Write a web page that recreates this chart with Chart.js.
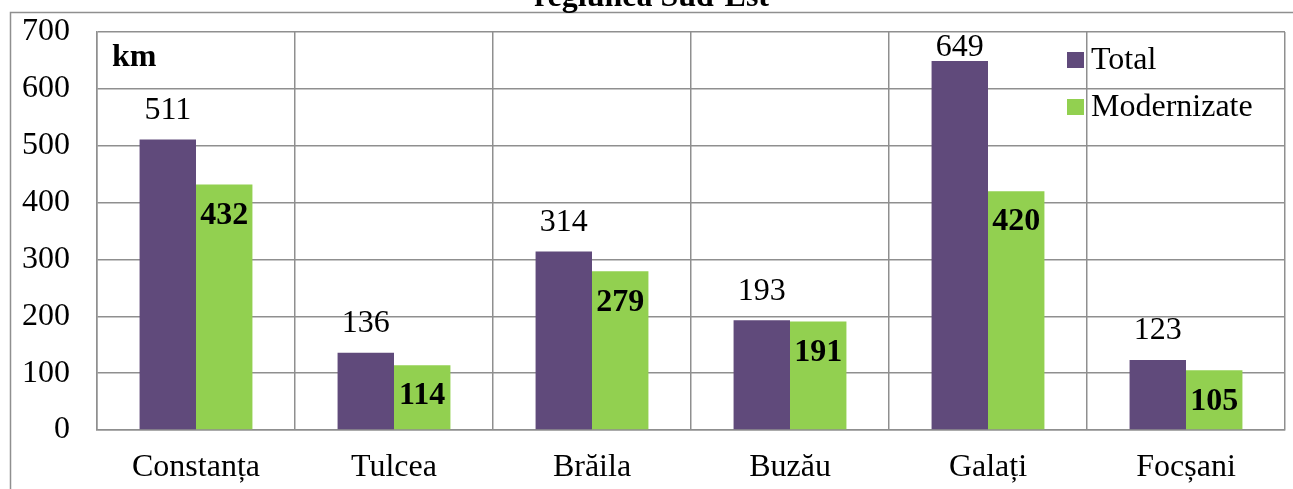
<!DOCTYPE html>
<html>
<head>
<meta charset="utf-8">
<script src="https://cdn.jsdelivr.net/npm/chart.js@4/dist/chart.umd.min.js"></script>
<style>
  html, body { margin: 0; padding: 0; background: #fff; }
  #wrap { width: 1293px; height: 489px; overflow: hidden; position: relative; }
  canvas { display: block; }
</style>
</head>
<body>
<div id="wrap"><canvas id="c" width="1293" height="489"></canvas></div>
<script>
const titleText = 'regiunea Sud-Est';
const unitText = 'km';
const categories = ['Constanța', 'Tulcea', 'Brăila', 'Buzău', 'Galați', 'Focșani'];
const totalValues = [511, 136, 314, 193, 649, 123];
const modernizateValues = [432, 114, 279, 191, 420, 105];
const seriesNames = ['Total', 'Modernizate'];
const yMin = 0, yMax = 700, yStep = 100;

const FONT = '"Liberation Serif", "Times New Roman", serif';
const GRID = '#8f8f8f';
const FS = 32;

const decorPlugin = {
  id: 'decor',
  beforeDraw(chart) {
    const ctx = chart.ctx;
    ctx.save();
    ctx.fillStyle = '#fff';
    ctx.fillRect(0, 0, chart.width, chart.height);
    ctx.restore();
  },
  afterDraw(chart) {
    const ctx = chart.ctx;
    const ca = chart.chartArea;
    ctx.save();
    // outer frame
    ctx.strokeStyle = GRID;
    ctx.lineWidth = 1.5;
    ctx.strokeRect(10.5, 12.5, chart.width + 50, chart.height + 50);
    // title (cut off at top)
    ctx.fillStyle = '#000';
    ctx.font = 'bold ' + FS + 'px ' + FONT;
    ctx.textAlign = 'center';
    ctx.textBaseline = 'alphabetic';
    ctx.fillText(titleText, chart.width / 2 + 5, 6);
    // unit label
    ctx.textAlign = 'left';
    ctx.fillText(unitText, ca.left + 15, 66);
    // legend
    const items = [
      { y: 60, ds: chart.data.datasets[0] },
      { y: 107, ds: chart.data.datasets[1] }
    ];
    ctx.font = FS + 'px ' + FONT;
    ctx.textBaseline = 'middle';
    items.forEach(it => {
      ctx.fillStyle = it.ds.backgroundColor;
      ctx.fillRect(1067, it.y - 8, 17, 16);
      ctx.fillStyle = '#000';
      ctx.fillText(it.ds.label, 1091, it.y + 1);
    });
    // data labels
    ctx.textAlign = 'center';
    chart.data.datasets.forEach((ds, di) => {
      const meta = chart.getDatasetMeta(di);
      meta.data.forEach((el, i) => {
        const v = ds.data[i];
        if (di === 0) {
          ctx.font = FS + 'px ' + FONT;
          const y = Math.max(el.y - 29, ca.top + 16);
          ctx.fillText(String(v), el.x, y);
        } else {
          ctx.font = 'bold ' + FS + 'px ' + FONT;
          ctx.fillText(String(v), el.x, el.y + 31);
        }
      });
    });
    ctx.restore();
  }
};

new Chart(document.getElementById('c'), {
  type: 'bar',
  data: {
    labels: categories,
    datasets: [
      { label: seriesNames[0], data: totalValues, backgroundColor: '#604A7B', categoryPercentage: 0.57, barPercentage: 1.0 },
      { label: seriesNames[1], data: modernizateValues, backgroundColor: '#92D050', categoryPercentage: 0.57, barPercentage: 1.0 }
    ]
  },
  options: {
    responsive: false,
    maintainAspectRatio: false,
    animation: false,
    devicePixelRatio: 1,
    layout: { padding: { top: 32, right: 8, left: 0, bottom: 0 } },
    plugins: {
      legend: { display: false },
      title: { display: false },
      tooltip: { enabled: false }
    },
    scales: {
      x: {
        grid: { color: GRID, lineWidth: 1.5, drawTicks: false, offset: true },
        border: { display: true, color: GRID, width: 1.5 },
        ticks: { color: '#000', font: { family: FONT, size: FS }, padding: 18, maxRotation: 0 },
        afterFit(scale) { scale.height = 59; scale.paddingLeft = 0; scale.paddingRight = 0; }
      },
      y: {
        min: yMin, max: yMax,
        grid: { color: GRID, lineWidth: 1.5, drawTicks: false },
        border: { display: true, color: GRID, width: 1.5 },
        ticks: { stepSize: yStep, color: '#000', font: { family: FONT, size: FS }, padding: 27 },
        afterFit(scale) { scale.width = 97; scale.paddingTop = 0; scale.paddingBottom = 0; }
      }
    }
  },
  plugins: [decorPlugin]
});
</script>
</body>
</html>
